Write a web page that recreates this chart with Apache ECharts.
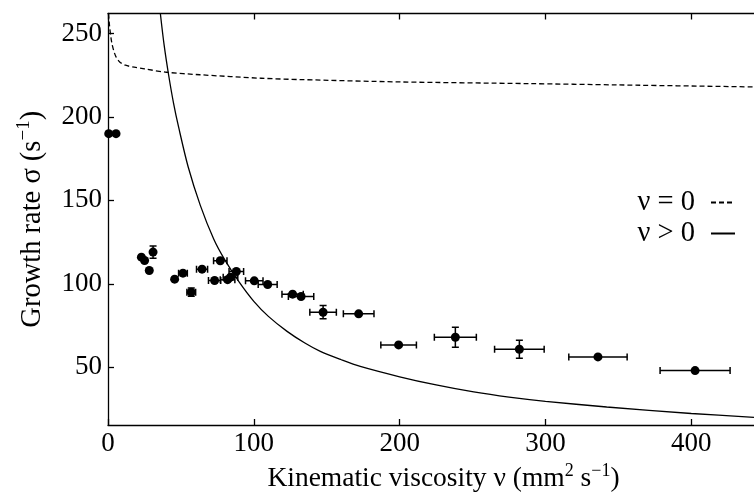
<!DOCTYPE html>
<html>
<head>
<meta charset="utf-8">
<script src="https://cdn.jsdelivr.net/npm/echarts@6/dist/echarts.min.js"></script>
<style>html,body{margin:0;padding:0;background:#fff}#c{width:754px;height:499px}</style>
</head>
<body>
<div id="c"></div>
<script>
// Measured data points: viscosity (mm^2/s), growth rate (1/s), x error, y error
const dataX    = [0.5, 5.5, 22.9, 25.1, 28.3, 30.9, 45.7, 51.4, 57.1, 64.5, 73.1, 77.0, 82.0, 84.0, 88.0, 100.3, 109.5, 126.6, 132.4, 147.5, 171.9, 199.3, 238.2, 282.1, 336.0, 402.6];
const dataY    = [190, 190, 116, 114, 108, 119, 102.8, 106.4, 95, 108.8, 102, 113.8, 102.5, 104, 107.4, 101.8, 99.6, 93.8, 92.4, 83, 82, 63.4, 68, 60.8, 56.2, 48];
const dataXErr = [0, 0, 0, 0, 0, 0, 0, 3, 3, 3.8, 4.2, 4.6, 5, 5, 5, 6, 6.5, 7.3, 8.7, 9.1, 10.5, 12.2, 14.4, 17, 20, 24];
const dataYErr = [0, 0, 0, 0, 0, 3.7, 0, 0, 2.5, 0, 0, 0, 0, 0, 0, 0, 0, 0, 0, 4, 0, 0, 6, 5.4, 0, 0];

// Model curve nu = 0 (dashed)
const inviscidX = [0.3, 1.0, 1.8, 2.7, 4.0, 5.5, 8.0, 12, 18, 25, 40, 63, 105, 132, 200, 288, 350, 443];
const inviscidY = [262, 255, 249, 244, 239.5, 236, 233, 231, 229.8, 228.8, 226.8, 225.3, 223.2, 222.4, 221, 220, 219.2, 218];

// Model curve nu > 0 (solid)
const viscousX = [35.9, 38.5, 41.6, 45, 48.4, 55, 63.3, 72.4, 80, 90, 100, 110, 122.8, 135, 145.6, 160, 173, 200, 225, 250.8, 275, 300, 342, 400, 443];
const viscousY = [262, 243, 225, 208, 194, 170, 147, 127, 114.5, 101, 89.5, 80.5, 71.5, 64.5, 59.5, 54.5, 50.5, 44.3, 39.4, 35.2, 32.1, 29.6, 26.2, 22.3, 20];

const legendNames = ['ν = 0', 'ν > 0'];
const xTicks = [0, 100, 200, 300, 400];
const yTicks = [50, 100, 150, 200, 250];

const FONT = 'Liberation Serif';
const pts = dataX.map((x, i) => [x, dataY[i]]);
const errs = dataX.map((x, i) => [x, dataY[i], dataXErr[i], dataYErr[i]]);
const inviscid = inviscidX.map((x, i) => [x, inviscidY[i]]);
const viscous = viscousX.map((x, i) => [x, viscousY[i]]);

const chart = echarts.init(document.getElementById('c'), null, {renderer: 'canvas'});
const axisLine = {show: true, onZero: false, lineStyle: {color: '#000', width: 1.3}};
const tick = (vals) => ({show: true, inside: true, length: 6, customValues: vals, lineStyle: {color: '#000', width: 1.3}});
const richX = {
  n: {fontFamily: FONT, fontSize: 27.5, color: '#000', lineHeight: 34},
  sup: {fontFamily: FONT, fontSize: 18, color: '#000', lineHeight: 18, verticalAlign: 'top'}
};
const richY = {
  n: {fontFamily: FONT, fontSize: 28.5, color: '#000', lineHeight: 35},
  sup: {fontFamily: FONT, fontSize: 19, color: '#000', lineHeight: 19, verticalAlign: 'top'}
};

chart.setOption({
  animation: false,
  backgroundColor: '#fff',
  grid: {left: 108, top: 13.5, bottom: 74, right: 0, containLabel: false},
  legend: {
    data: legendNames,
    orient: 'vertical',
    right: 18,
    top: 188,
    padding: 0,
    align: 'right',
    itemWidth: 24,
    itemHeight: 14,
    itemGap: 2,
    itemStyle: {color: 'rgba(0,0,0,0)', borderColor: 'rgba(0,0,0,0)', borderWidth: 0},
    textStyle: {fontFamily: FONT, fontSize: 28.5, color: '#000', padding: [0, 11, 0, 0]},
    selectedMode: false
  },
  xAxis: [{
    type: 'value', min: 0, max: 443,
    axisLine: axisLine, splitLine: {show: false},
    axisTick: tick(xTicks),
    axisLabel: {customValues: xTicks, fontFamily: FONT, fontSize: 27, color: '#000', margin: 5},
    name: '{n|Kinematic viscosity ν (mm}{sup|2}{n| s}{sup|−1}{n|)}',
    nameLocation: 'middle', nameGap: 34,
    nameTextStyle: {rich: richX, padding: [0, 0, 0, 25]}
  }, {
    type: 'value', min: 0, max: 443, position: 'top',
    axisLine: axisLine, splitLine: {show: false},
    axisTick: tick(xTicks), axisLabel: {show: false}
  }],
  yAxis: [{
    type: 'value', min: 15.4, max: 262,
    axisLine: axisLine, splitLine: {show: false},
    axisTick: tick(yTicks),
    axisLabel: {customValues: yTicks, fontFamily: FONT, fontSize: 27, color: '#000', margin: 6},
    name: '{n|Growth rate σ (s}{sup|−1}{n|)}',
    nameLocation: 'middle', nameGap: 58, nameRotate: 90,
    nameTextStyle: {rich: richY}
  }],
  series: [{
    name: legendNames[0], type: 'line', data: inviscid, showSymbol: false, symbol: 'none',
    smooth: 0.3, clip: true,
    lineStyle: {color: '#000', width: 1.3, type: [5, 3]}, itemStyle: {color: '#000'}
  }, {
    name: legendNames[1], type: 'line', data: viscous, showSymbol: false, symbol: 'none',
    smooth: 0.3, clip: true,
    lineStyle: {color: '#000', width: 1.3, type: 'solid'}, itemStyle: {color: '#000'}
  }, {
    type: 'custom', data: errs, clip: true, z: 3,
    encode: {x: 0, y: 1},
    renderItem: function (params, api) {
      const x = api.value(0), y = api.value(1), xe = api.value(2), ye = api.value(3);
      const cap = 3.5;
      const ch = [];
      const ln = (x1, y1, x2, y2) => ({type: 'line', shape: {x1, y1, x2, y2}, style: {stroke: '#000', lineWidth: 1.5}});
      if (xe > 0) {
        const l = api.coord([x - xe, y]), r = api.coord([x + xe, y]);
        ch.push(ln(l[0], l[1], r[0], r[1]));
        ch.push(ln(l[0], l[1] - cap, l[0], l[1] + cap));
        ch.push(ln(r[0], r[1] - cap, r[0], r[1] + cap));
      }
      if (ye > 0) {
        const b = api.coord([x, y - ye]), t = api.coord([x, y + ye]);
        ch.push(ln(b[0], b[1], t[0], t[1]));
        ch.push(ln(b[0] - cap, b[1], b[0] + cap, b[1]));
        ch.push(ln(t[0] - cap, t[1], t[0] + cap, t[1]));
      }
      return {type: 'group', children: ch};
    }
  }, {
    type: 'scatter', data: pts, symbol: 'circle', symbolSize: 9, z: 4,
    itemStyle: {color: '#000', opacity: 1}
  }]
});
</script>
</body>
</html>
